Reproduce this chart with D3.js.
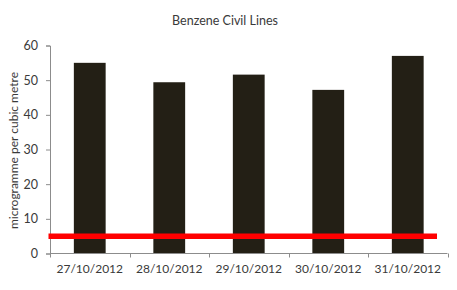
<!DOCTYPE html>
<html>
<head>
<meta charset="utf-8">
<script src="https://cdn.jsdelivr.net/npm/d3@7"></script>
<style>
  body { margin: 0; background: #fff; }
  text { font-family: Lato, "Open Sans", sans-serif; fill: #3a3a3a; }
</style>
</head>
<body>
<div id="chart"></div>
<script>
// chart data
var dates = ["27/10/2012", "28/10/2012", "29/10/2012", "30/10/2012", "31/10/2012"];
var benzene = [55, 49.4, 51.6, 47.2, 57];
var yTicks = [0, 10, 20, 30, 40, 50, 60];
var limitValue = 5;

var W = 457, H = 290;
var margin = { top: 45.5, right: 9.5, bottom: 36.5, left: 50 },
  width = W - margin.left - margin.right,
  height = H - margin.top - margin.bottom;

var svg = d3.select("#chart")
  .append("svg")
  .attr("width", W)
  .attr("height", H);

var g = svg.append("g")
  .attr("transform", "translate(" + margin.left + "," + margin.top + ")");

// scales
var x = d3.scaleBand()
  .domain(dates)
  .range([0, width])
  .paddingInner(0.6)
  .paddingOuter(0.3);

var y = d3.scaleLinear()
  .domain([0, 60])
  .range([height, 0]);

// title
svg.append("text")
  .attr("x", 225)
  .attr("y", 25)
  .attr("text-anchor", "middle")
  .style("font-size", "12.5px")
  .text("Benzene Civil Lines");

// y axis label
svg.append("text")
  .attr("transform", "translate(17.5," + (margin.top + height / 2 + 1) + ")rotate(-90)")
  .attr("text-anchor", "middle")
  .style("font-size", "12px")
  .text("microgramme per cubic metre");

// bars
g.selectAll(".bar")
  .data(benzene)
  .enter()
  .append("rect")
  .attr("class", "bar")
  .attr("x", function(d, i) { return x(dates[i]); })
  .attr("y", function(d) { return y(d); })
  .attr("width", x.bandwidth())
  .attr("height", function(d) { return height - y(d); })
  .attr("fill", "#231f15");

// y axis
var yAxis = g.append("g")
  .call(d3.axisLeft(y).tickValues(yTicks).tickSize(4).tickPadding(8));

// x axis, ticks at the category boundaries
var step = x.step();
var xAxis = g.append("g")
  .attr("transform", "translate(0," + height + ")");
xAxis.append("line")
  .attr("x1", 0).attr("x2", width)
  .attr("stroke", "#8c8c8c");
xAxis.selectAll(".tick")
  .data(d3.range(dates.length + 1))
  .enter()
  .append("line")
  .attr("x1", function(i) { return Math.round(i * step) + 0.5; })
  .attr("x2", function(i) { return Math.round(i * step) + 0.5; })
  .attr("y1", 0).attr("y2", 4)
  .attr("stroke", "#8c8c8c");
xAxis.selectAll(".lbl")
  .data(dates)
  .enter()
  .append("text")
  .attr("x", function(d) { return x(d) + x.bandwidth() / 2; })
  .attr("y", 19.5)
  .attr("text-anchor", "middle")
  .style("font-size", "12px")
  .text(function(d) { return d; });

yAxis.select(".domain").attr("stroke", "#8c8c8c");
yAxis.selectAll(".tick line").attr("stroke", "#8c8c8c");
yAxis.selectAll(".tick text").style("font-size", "12.5px").attr("fill", "#3a3a3a")
  .style("font-family", "Lato, sans-serif");

// red limit line
g.append("line")
  .attr("x1", -1.5)
  .attr("x2", width - 10.5)
  .attr("y1", y(limitValue))
  .attr("y2", y(limitValue))
  .attr("stroke", "#ff0000")
  .attr("stroke-width", 5.5);
</script>
</body>
</html>
